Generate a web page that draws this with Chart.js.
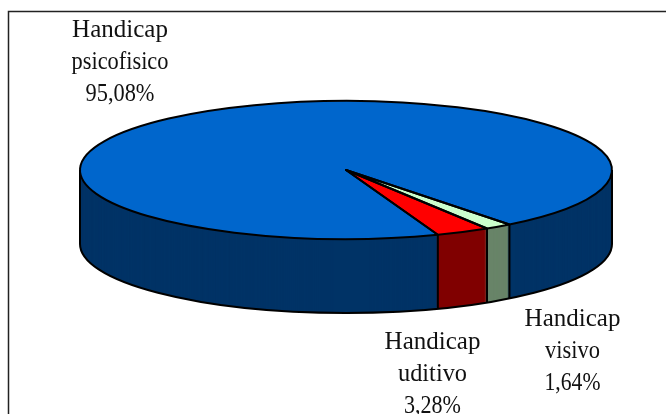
<!DOCTYPE html>
<html>
<head>
<meta charset="utf-8">
<style>html,body{margin:0;padding:0;background:#fff}canvas{display:block}</style>
<script src="https://cdn.jsdelivr.net/npm/chart.js@4/dist/chart.umd.min.js"></script>
</head>
<body>
<canvas id="c" width="666" height="414"></canvas>
<script>
// Data
const categories = ['Handicap psicofisico', 'Handicap visivo', 'Handicap uditivo'];
const values = [95.08, 1.64, 3.28];
const valueLabels = ['95,08%', '1,64%', '3,28%'];
const labelLines = [['Handicap', 'psicofisico'], ['Handicap', 'visivo'], ['Handicap', 'uditivo']];
const topColors = ['#0066CC', '#CCFFCC', '#FF0000'];
const sideColors = ['#003366', '#688468', '#800000'];

// Layout of the tilted pie
const tilt = { cx: 346, cy: 170, rx: 266, ry: 69, depth: 74, rotation: 159.8 };
const labelPos = [
  { x: 120, y: 37 },
  { x: 572.5, y: 326 },
  { x: 432.5, y: 349 }
];
const labelFit = [[96, 97, 69], [96, 55, 56], [96, 69, 57]];
const lineStep = 32;

function applyTilt(ctx, arc, dy) {
  const r = arc.outerRadius;
  ctx.translate(tilt.cx, tilt.cy + dy);
  ctx.scale(tilt.rx / r, tilt.ry / r);
  ctx.translate(-arc.x, -arc.y);
}

const pie3d = {
  id: 'pie3d',
  beforeDatasetsDraw(chart) {
    const ctx = chart.ctx;
    const arcs = chart.getDatasetMeta(0).data;
    for (let d = tilt.depth; d >= 1; d--) {
      arcs.forEach((arc, i) => {
        const original = arc.options;
        arc.options = Object.assign(Object.create(original), { backgroundColor: sideColors[i], borderWidth: 0 });
        ctx.save();
        applyTilt(ctx, arc, d);
        arc.draw(ctx);
        ctx.restore();
        arc.options = original;
      });
    }
  },
  beforeDatasetDraw(chart) {
    const ctx = chart.ctx;
    ctx.save();
    applyTilt(ctx, chart.getDatasetMeta(0).data[0], 0);
  },
  afterDatasetDraw(chart) {
    const ctx = chart.ctx;
    ctx.restore();
    const arcs = chart.getDatasetMeta(0).data;
    ctx.save();
    ctx.strokeStyle = '#000';
    ctx.lineWidth = 2;
    ctx.lineJoin = 'round';
    // outer silhouette of the wall
    ctx.beginPath();
    ctx.moveTo(tilt.cx - tilt.rx, tilt.cy);
    ctx.lineTo(tilt.cx - tilt.rx, tilt.cy + tilt.depth);
    ctx.ellipse(tilt.cx, tilt.cy + tilt.depth, tilt.rx, tilt.ry, 0, Math.PI, 0, true);
    ctx.lineTo(tilt.cx + tilt.rx, tilt.cy);
    ctx.stroke();
    arcs.forEach(arc => {
      // top wedge
      ctx.beginPath();
      ctx.moveTo(tilt.cx, tilt.cy);
      ctx.ellipse(tilt.cx, tilt.cy, tilt.rx, tilt.ry, 0, arc.startAngle, arc.endAngle);
      ctx.closePath();
      ctx.stroke();
      // wall seam at the wedge's start, when it faces the viewer
      if (Math.sin(arc.startAngle) > 0) {
        const x = tilt.cx + tilt.rx * Math.cos(arc.startAngle);
        const y = tilt.cy + tilt.ry * Math.sin(arc.startAngle);
        ctx.beginPath();
        ctx.moveTo(x, y);
        ctx.lineTo(x, y + tilt.depth);
        ctx.stroke();
      }
    });
    ctx.restore();
  },
  afterDraw(chart) {
    const ctx = chart.ctx;
    ctx.save();
    // frame
    ctx.strokeStyle = '#222';
    ctx.lineWidth = 1.5;
    ctx.beginPath();
    ctx.moveTo(8.5, 414);
    ctx.lineTo(8.5, 11.5);
    ctx.lineTo(666, 11.5);
    ctx.stroke();
    // labels
    ctx.fillStyle = '#111';
    ctx.font = '25px "Liberation Serif"';
    ctx.textAlign = 'center';
    ctx.textBaseline = 'alphabetic';
    labelLines.forEach((lines, i) => {
      const p = labelPos[i];
      [...lines, valueLabels[i]].forEach((t, j) => ctx.fillText(t, p.x, p.y + j * lineStep, labelFit[i][j]));
    });
    ctx.restore();
  }
};

new Chart(document.getElementById('c'), {
  type: 'pie',
  data: {
    labels: categories,
    datasets: [{
      data: values,
      backgroundColor: topColors,
      borderWidth: 0,
      clip: false
    }]
  },
  options: {
    responsive: false,
    animation: false,
    rotation: tilt.rotation,
    events: [],
    layout: { padding: 0 },
    plugins: { legend: { display: false }, tooltip: { enabled: false } }
  },
  plugins: [pie3d]
});
</script>
</body>
</html>
